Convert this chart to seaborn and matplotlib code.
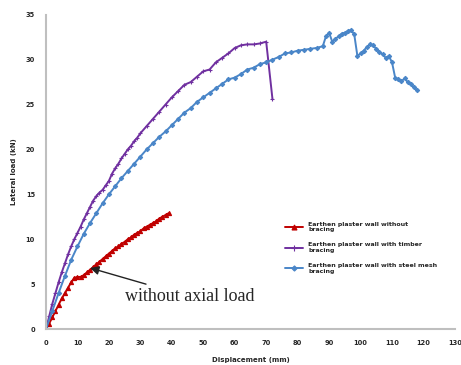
import numpy as np
import pandas as pd
import matplotlib
matplotlib.use("Agg")
import matplotlib.pyplot as plt
import seaborn as sns

# displacement (mm) / lateral load (kN)
red_x = [0, 1, 2, 3, 4, 5, 6, 7, 8, 9, 10, 11, 12, 13, 14, 15, 16, 17, 18, 19,
         20, 21, 22, 23, 24, 25, 26, 27, 28, 29, 30, 31, 32, 33, 34, 35, 36, 37, 38, 39]
red_y = [0, 0.6, 1.3, 2.0, 2.7, 3.4, 4.0, 4.6, 5.2, 5.7, 5.8, 5.8, 6.0, 6.3, 6.6, 6.9, 7.2, 7.5, 7.8, 8.1,
         8.4, 8.7, 9.0, 9.2, 9.5, 9.7, 10.0, 10.2, 10.5, 10.7, 10.9, 11.2, 11.4, 11.6, 11.8, 12.0, 12.3, 12.5, 12.7, 12.9]

purple_x = [0, 1, 2, 3, 4, 5, 6, 7, 8, 9, 10, 11, 12, 13, 14, 15, 16, 17, 18, 19, 20, 21, 22, 23, 24, 25,
            26, 27, 28, 29, 30, 32, 34, 36, 38, 40, 42, 44, 46, 48, 50, 52, 54, 56, 58, 60, 62, 64, 66, 68, 70, 72]
purple_y = [0, 1.4, 2.8, 4.0, 5.2, 6.3, 7.3, 8.3, 9.2, 10.0, 10.7, 11.4, 12.2, 12.9, 13.6, 14.3, 14.8, 15.2,
            15.5, 16.0, 16.5, 17.3, 17.9, 18.4, 19.0, 19.5, 20.0, 20.4, 20.9, 21.3, 21.8, 22.6, 23.4, 24.2, 25.0,
            25.8, 26.5, 27.2, 27.5, 28.1, 28.7, 28.9, 29.7, 30.2, 30.7, 31.3, 31.6, 31.7, 31.7, 31.8, 32.0, 25.6]

blue_x = [0, 2, 4, 6, 8, 10, 12, 14, 16, 18, 20, 22, 24, 26, 28, 30, 32, 34, 36, 38, 40, 42, 44, 46, 48, 50,
          52, 54, 56, 58, 60, 62, 64, 66, 68, 70, 72, 74, 76, 78, 80, 82, 84, 86, 88, 89, 90, 91, 92, 93, 94,
          95, 96, 97, 98, 99, 100, 101, 102, 103, 104, 105, 106, 107, 108, 109, 110, 111, 112, 113, 114, 115,
          116, 117, 118]
blue_y = [0, 2.0, 4.0, 5.9, 7.7, 9.2, 10.6, 11.8, 12.9, 14.0, 15.0, 15.9, 16.8, 17.6, 18.4, 19.2, 20.0, 20.7,
          21.4, 22.0, 22.7, 23.4, 24.1, 24.6, 25.3, 25.8, 26.3, 26.8, 27.3, 27.8, 28.0, 28.4, 28.9, 29.1, 29.5,
          29.7, 30.0, 30.3, 30.7, 30.8, 31.0, 31.1, 31.2, 31.3, 31.5, 32.6, 33.0, 32.0, 32.3, 32.6, 32.9, 33.0,
          33.2, 33.3, 32.8, 30.4, 30.7, 31.0, 31.4, 31.7, 31.6, 31.2, 30.8, 30.6, 30.2, 30.4, 29.7, 28.0, 27.8,
          27.6, 27.9, 27.5, 27.3, 26.9, 26.6]

labels = ["Earthen plaster wall without\nbracing",
          "Earthen plaster wall with timber\nbracing",
          "Earthen plaster wall with steel mesh\nbracing"]
x_ticks = list(range(0, 131, 10))
y_ticks = list(range(0, 36, 5))

sns.set_style("white")

fig = plt.figure(figsize=(4.61, 3.65), dpi=100)
ax = fig.add_axes([0.0998, 0.0986, 0.887, 0.861])

series = [(red_x, red_y, "#C00000", "^", 3.0),
          (purple_x, purple_y, "#7030A0", "+", 3.5),
          (blue_x, blue_y, "#4A86C8", "D", 2.2)]
for (xs, ys, col, mk, ms), lab in zip(series, labels):
    sns.lineplot(x=xs, y=ys, ax=ax, sort=False, color=col, marker=mk,
                 markersize=ms, markeredgecolor=col, markeredgewidth=0.8,
                 linewidth=1.4, label=lab)

ax.set_xlim(0, 130)
ax.set_ylim(0, 35)
ax.set_xticks(x_ticks)
ax.set_yticks(y_ticks)
ax.tick_params(labelsize=4.8, length=2, width=0.8, color="#A0A0A0", pad=6)
for t in ax.get_xticklabels() + ax.get_yticklabels():
    t.set_fontweight("bold")
for s in ["top", "right"]:
    ax.spines[s].set_visible(False)
for s in ["left", "bottom"]:
    ax.spines[s].set_color("#BFBFBF")
    ax.spines[s].set_linewidth(1.5)

ax.set_xlabel("Displacement (mm)", fontsize=5, fontweight="bold", labelpad=8)
ax.set_ylabel("Lateral load (kN)", fontsize=5, fontweight="bold", labelpad=6)

ax.annotate("without axial load", xy=(14, 6.8), xytext=(25, 3.6),
            fontsize=13, family="Liberation Serif", va="center",
            arrowprops=dict(arrowstyle="-|>", color="#222222", lw=1.0,
                            shrinkA=2, shrinkB=0))

leg = ax.legend(loc="upper left", bbox_to_anchor=(0.57, 0.36), frameon=False,
                fontsize=4.5, labelspacing=1.6, handlelength=3, markerscale=1.2)
for t in leg.get_texts():
    t.set_fontweight("bold")

fig.savefig("out.png", dpi=100)
